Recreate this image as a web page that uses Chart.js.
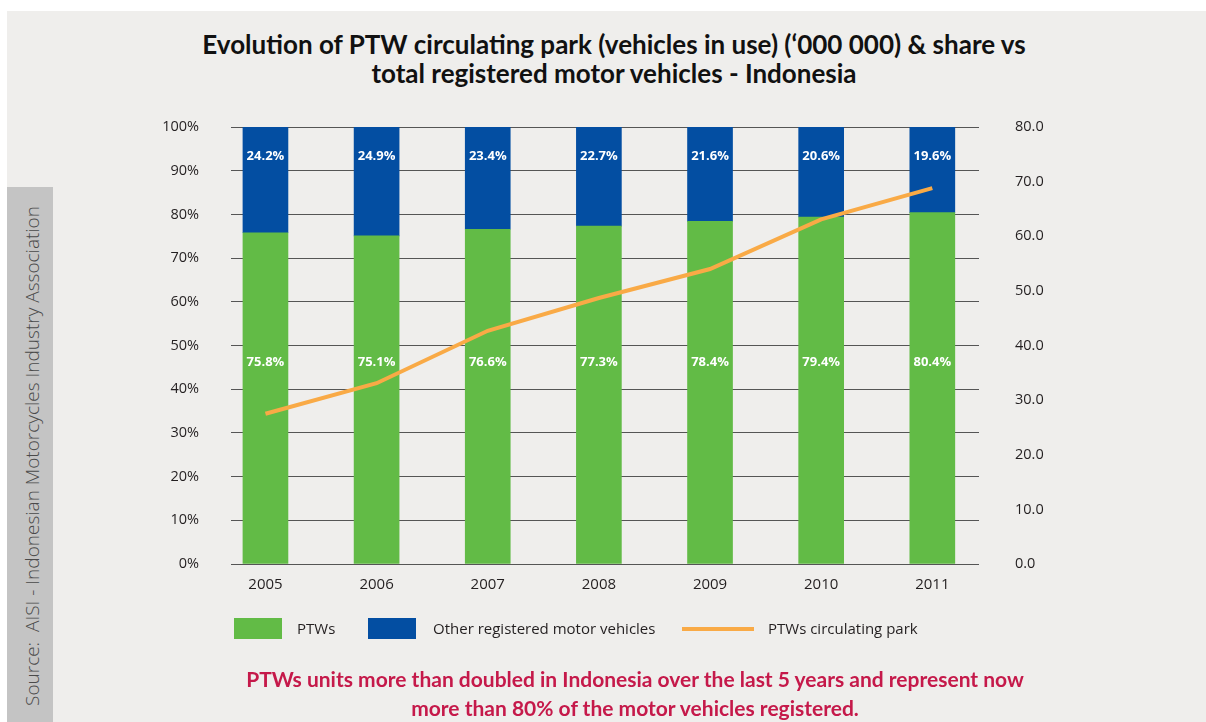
<!DOCTYPE html>
<html>
<head>
<meta charset="utf-8">
<script src="https://cdn.jsdelivr.net/npm/chart.js@4.4.1/dist/chart.umd.min.js"></script>
<style>
  body { margin: 0; width: 1206px; height: 722px; overflow: hidden; position: relative; background: #fff; font-family: "Open Sans", sans-serif; }
  #bg { position: absolute; left: 7px; top: 11px; right: 0; bottom: 0; background: #efeeec; }
  #strip { position: absolute; left: 7px; top: 187px; width: 46px; bottom: 0; background: #c4c4c4; }
  #source { position: absolute; left: 32px; top: 456px; transform: translate(-50%, -50%) rotate(-90deg); white-space: nowrap; font-size: 19px; font-weight: 300; color: #4a4a4a; }
  #title { position: absolute; left: 0; width: 1228px; top: 30px; text-align: center; font-family: Lato, sans-serif; font-weight: 700; font-size: 26px; line-height: 29px; color: #111; }
  #note { position: absolute; left: 0; width: 1270px; top: 664px; text-align: center; font-family: Lato, sans-serif; font-weight: 700; font-size: 21px; line-height: 29px; color: #c5194a; }
  #wrap { position: absolute; left: 0; top: 0; width: 1206px; height: 722px; }
  .lg { position: absolute; }
  .lg-text { position: absolute; top: 618px; line-height: 21px; font-size: 15px; color: #231f20; white-space: nowrap; }
</style>
</head>
<body>
<div id="bg"></div>
<div id="strip"></div>
<div id="source">Source:&nbsp; AISI - Indonesian Motorcycles Industry Association</div>
<div id="title">Evolution of PTW circulating park (vehicles in use) (‘000 000) &amp; share vs<br>total registered motor vehicles - Indonesia</div>
<div id="wrap"><canvas id="chart"></canvas></div>
<div class="lg" style="left:234px; top:618px; width:48px; height:21px; background:#62bb46;"></div>
<div class="lg-text" style="left:297px;">PTWs</div>
<div class="lg" style="left:368px; top:618px; width:48px; height:21px; background:#034ea2;"></div>
<div class="lg-text" style="left:433px;">Other registered motor vehicles</div>
<div class="lg" style="left:682px; top:627px; width:72px; height:4px; background:#f9aa46;"></div>
<div class="lg-text" style="left:768px;">PTWs circulating park</div>
<div id="note">PTWs units more than doubled in Indonesia over the last 5 years and represent now<br>more than 80% of the motor vehicles registered.</div>

<script>
const years = [2005, 2006, 2007, 2008, 2009, 2010, 2011];
const ptwShare = [75.8, 75.1, 76.6, 77.3, 78.4, 79.4, 80.4];
const otherShare = [24.2, 24.9, 23.4, 22.7, 21.6, 20.6, 19.6];
const ptwPark = [27.5, 33.1, 42.7, 48.7, 54.0, 63.1, 68.8];

Chart.defaults.font.family = '"Open Sans", sans-serif';
Chart.defaults.font.size = 14.5;
Chart.defaults.color = '#231f20';

// white % labels inside the bars
const barLabels = {
    id: 'barLabels',
    afterDatasetsDraw(chart) {
        const ctx = chart.ctx;
        const y = chart.scales.y;
        ctx.save();
        ctx.font = 'bold 13px "Open Sans", sans-serif';
        ctx.fillStyle = '#fff';
        ctx.textAlign = 'center';
        ctx.textBaseline = 'middle';
        [[0, ptwShare, 46.2], [1, otherShare, 93.4]].forEach(function(item){
            const vals = item[1];
            chart.getDatasetMeta(item[0]).data.forEach(function(bar, j){
                ctx.fillText(vals[j].toFixed(1) + '%', bar.x, y.getPixelForValue(item[2]));
            });
        });
        ctx.restore();
    }
};

const ctx = document.getElementById('chart').getContext('2d');
const chart = new Chart(ctx, {
    type: 'bar',
    data: {
        labels: years,
        datasets: [{
            label: 'PTWs',
            data: ptwShare,
            backgroundColor: '#62bb46',
            barThickness: 45,
            order: 1
        }, {
            label: 'Other registered motor vehicles',
            data: otherShare,
            backgroundColor: '#034ea2',
            barThickness: 45,
            order: 1
        }, {
            type: 'line',
            label: 'PTWs circulating park',
            data: ptwPark,
            yAxisID: 'y1',
            borderColor: '#f9aa46',
            borderWidth: 4,
            pointRadius: 0,
            tension: 0,
            order: 0
        }]
    },
    options: {
        responsive: true,
        maintainAspectRatio: false,
        animation: false,
        layout: { padding: { top: 127, left: 0, right: 0, bottom: 0 } },
        plugins: {
            legend: { display: false },
            tooltip: { enabled: false }
        },
        scales: {
            x: {
                type: 'linear',
                min: 2004.69,
                max: 2011.42,
                offset: false,
                stacked: true,
                grid: { display: false },
                border: { display: false },
                ticks: { stepSize: 1, includeBounds: false, padding: 4, font: { size: 15 }, callback: v => String(v) },
                afterFit: s => { s.height = 158; }
            },
            y: {
                position: 'left',
                stacked: true,
                min: 0,
                max: 100,
                grid: { color: '#555', drawTicks: false },
                border: { display: false },
                ticks: { stepSize: 10, padding: 32, callback: v => v + '%' },
                afterFit: s => { s.width = 231; }
            },
            y1: {
                position: 'right',
                min: 0,
                max: 80,
                grid: { display: false },
                border: { display: false },
                ticks: { stepSize: 10, padding: 28, callback: v => v.toFixed(1) },
                afterFit: s => { s.width = 227; }
            }
        }
    },
    plugins: [barLabels]
});
</script>
</body>
</html>
